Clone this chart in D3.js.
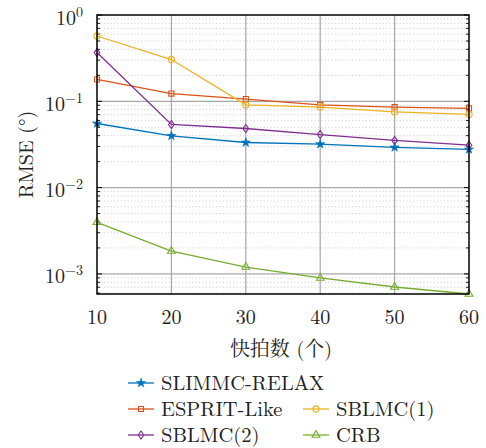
<!DOCTYPE html>
<html><head><meta charset="utf-8">
<script src="https://cdn.jsdelivr.net/npm/d3@7"></script>
<style>body{margin:0;background:#fff}svg{display:block}</style>
</head><body>
<script>
const snapshots = [10, 20, 30, 40, 50, 60];
const slimmcRelax = [0.0553, 0.0398, 0.0333, 0.0319, 0.0292, 0.0277];
const espritLike  = [0.179, 0.123, 0.106, 0.0908, 0.0855, 0.0826];
const sblmc1      = [0.571, 0.305, 0.0908, 0.0855, 0.0754, 0.0704];
const sblmc2      = [0.367, 0.0539, 0.0484, 0.0412, 0.0352, 0.031];
const crb         = [0.00396, 0.00184, 0.00120, 0.000897, 0.000705, 0.000585];
const seriesNames = ["SLIMMC-RELAX", "ESPRIT-Like", "SBLMC(1)", "SBLMC(2)", "CRB"];
const yTickExps = [0, -1, -2, -3];
const xLabel = "快拍数 (个)";
const yLabel = "RMSE (°)";

const colors = ["#0072BD", "#D95319", "#EDB120", "#7E2F8E", "#77AC30"];
const markers = ["star", "square", "circle", "diamond", "triangle"];
const allSeries = [slimmcRelax, espritLike, sblmc1, sblmc2, crb];

const W = 486, H = 448;
const L = 97, R = 469, T = 15, B = 294;
const FONT = '"Latin Modern Roman", "Liberation Serif", serif';
const CJK = '"Latin Modern Roman", "Noto Serif CJK SC", "Noto Sans CJK SC", serif';

const svg = d3.select("body").append("svg").attr("width", W).attr("height", H);
const x = d3.scaleLinear().domain([10, 60]).range([L, R]);
const y = d3.scaleLog().domain([0.000585, 1]).range([B, T]);

const minors = [];
for (let e = -4; e < 0; e++) for (let k = 2; k <= 9; k++) {
  const v = k * Math.pow(10, e);
  if (v >= y.domain()[0] && v <= 1) minors.push(v);
}
const g = svg.append("g");
g.selectAll(".mg").data(minors).join("line")
  .attr("x1", L).attr("x2", R).attr("y1", d => y(d)).attr("y2", d => y(d))
  .attr("stroke", "#c8c8c8").attr("stroke-width", 0.8).attr("stroke-dasharray", "1.2,2.2");
g.selectAll(".My").data(yTickExps.slice(1)).join("line")
  .attr("x1", L).attr("x2", R).attr("y1", d => y(Math.pow(10, d))).attr("y2", d => y(Math.pow(10, d)))
  .attr("stroke", "#a8a8a8").attr("stroke-width", 1.2);
g.selectAll(".Mx").data(snapshots.slice(1, -1)).join("line")
  .attr("y1", T).attr("y2", B).attr("x1", d => x(d)).attr("x2", d => x(d))
  .attr("stroke", "#a8a8a8").attr("stroke-width", 1.2);

const tk = svg.append("g").attr("stroke", "#000");
yTickExps.forEach(e => {
  const yy = y(Math.pow(10, e));
  tk.append("line").attr("x1", L).attr("x2", L + 5).attr("y1", yy).attr("y2", yy).attr("stroke-width", 1);
  tk.append("line").attr("x1", R).attr("x2", R - 5).attr("y1", yy).attr("y2", yy).attr("stroke-width", 1);
});
minors.forEach(v => {
  const yy = y(v);
  tk.append("line").attr("x1", L).attr("x2", L + 3).attr("y1", yy).attr("y2", yy).attr("stroke-width", 0.9);
  tk.append("line").attr("x1", R).attr("x2", R - 3).attr("y1", yy).attr("y2", yy).attr("stroke-width", 0.9);
});

const line = d3.line().x((d, i) => x(snapshots[i])).y(d => y(d));
const symType = {star: d3.symbolStar, square: d3.symbolSquare, circle: d3.symbolCircle, triangle: d3.symbolTriangle};
const symSize = {star: 26, square: 26, circle: 30, triangle: 26};
function drawMarker(sel, m, c, cx, cy) {
  if (m === "diamond") {
    sel.append("path").attr("d", `M${cx},${cy-4}L${cx+2.8},${cy}L${cx},${cy+4}L${cx-2.8},${cy}Z`)
      .attr("fill", "none").attr("stroke", c).attr("stroke-width", 1.1);
    return;
  }
  sel.append("path").attr("d", d3.symbol().type(symType[m]).size(symSize[m])())
    .attr("transform", `translate(${cx},${cy})`)
    .attr("fill", m === "star" ? c : "none").attr("stroke", c).attr("stroke-width", m === "star" ? 0.6 : 1.1);
}
const pl = svg.append("g");
allSeries.forEach((s, i) => {
  pl.append("path").datum(s).attr("d", line).attr("fill", "none")
    .attr("stroke", colors[i]).attr("stroke-width", 1.3);
  s.forEach((v, j) => drawMarker(pl, markers[i], colors[i], x(snapshots[j]), y(v)));
});

svg.append("rect").attr("x", L).attr("y", T).attr("width", R - L).attr("height", B - T)
  .attr("fill", "none").attr("stroke", "#000").attr("stroke-width", 1.5);

function txt(sel) { return sel.append("text").style("font-family", FONT).attr("fill", "#222"); }

yTickExps.forEach(e => {
  const t = txt(svg).attr("x", 83).attr("y", y(Math.pow(10, e)) + 9.5)
    .attr("text-anchor", "end").attr("font-size", 20);
  t.append("tspan").text("10");
  t.append("tspan").attr("dy", -8).attr("font-size", 14).text(e === 0 ? "0" : "−" + (-e));
});
snapshots.forEach(v => {
  txt(svg).attr("x", x(v)).attr("y", 323.5).attr("text-anchor", "middle")
    .attr("font-size", 20).text(v);
});
txt(svg).style("font-family", CJK).attr("x", 281).attr("y", 356).attr("text-anchor", "middle")
  .attr("font-size", 20).text(xLabel);
txt(svg).attr("transform", `translate(33,154.5) rotate(-90)`).attr("text-anchor", "middle")
  .attr("font-size", 20).text(yLabel);

const legPos = [[128, 383], [128, 409], [303, 409], [128, 435], [303, 435]];
const lg = svg.append("g");
seriesNames.forEach((n, i) => {
  const [lx, ly] = legPos[i];
  lg.append("line").attr("x1", lx).attr("x2", lx + 26).attr("y1", ly).attr("y2", ly)
    .attr("stroke", colors[i]).attr("stroke-width", 1.3);
  drawMarker(lg, markers[i], colors[i], lx + 13, ly);
  txt(lg).attr("x", lx + 33).attr("y", ly + 6.5).attr("font-size", 20.5).text(n);
});
</script>
</body></html>
